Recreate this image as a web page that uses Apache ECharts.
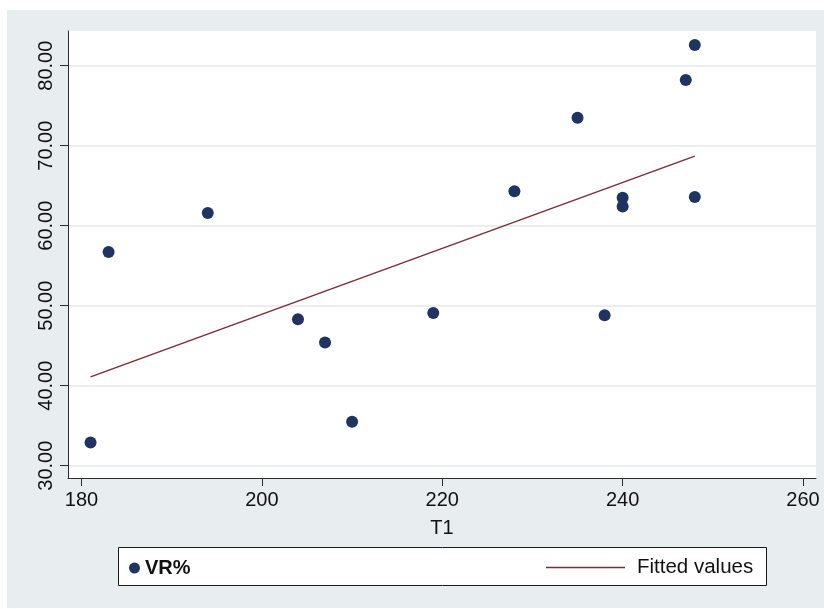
<!DOCTYPE html>
<html>
<head>
<meta charset="utf-8">
<script src="https://cdn.jsdelivr.net/npm/echarts@6/dist/echarts.min.js"></script>
<style>
html,body{margin:0;padding:0;background:#ffffff;}
#chart{width:824px;height:609px;}
</style>
</head>
<body>
<div id="chart"></div>
<script>
// Data
const t1 = [181, 183, 194, 204, 207, 210, 219, 228, 235, 238, 240, 240, 247, 248, 248];
const vr = [32.9, 56.7, 61.6, 48.3, 45.4, 35.5, 49.1, 64.3, 73.5, 48.8, 63.5, 62.4, 78.2, 82.6, 63.6];
const fitX = [181, 248];
const fitY = [41.1, 68.7];
const xTicks = [180, 200, 220, 240, 260];
const yTicks = [30, 40, 50, 60, 70, 80];
const seriesNames = ['VR%', 'Fitted values'];
const xName = 'T1';

const FONT = 'Liberation Sans, Arial, Helvetica, sans-serif';
const chart = echarts.init(document.getElementById('chart'), null, {renderer: 'canvas'});

const scatterData = t1.map((x, i) => [x, vr[i]]);
const fitData = fitX.map((x, i) => [x, fitY[i]]);

chart.setOption({
  animation: false,
  backgroundColor: '#ffffff',
  graphic: [
    {type: 'rect', z: -10, shape: {x: 7, y: 10, width: 817, height: 598}, style: {fill: '#e8edf0'}},
    {type: 'rect', z: 0, shape: {x: 118.5, y: 547.5, width: 648, height: 38}, style: {fill: '#ffffff', stroke: '#1a1a1a', lineWidth: 1}}
  ],
  grid: {left: 68, top: 31, width: 748, height: 447, show: true, backgroundColor: '#ffffff', borderWidth: 0},
  xAxis: {
    type: 'value', min: 178.5, max: 261.44,
    name: xName, nameLocation: 'middle', nameGap: 40,
    nameTextStyle: {fontFamily: FONT, fontSize: 20, color: '#111'},
    axisLine: {show: true, onZero: false, lineStyle: {color: '#2a2a2a', width: 1}},
    axisTick: {show: true, length: 8, lineStyle: {color: '#2a2a2a'}, customValues: xTicks},
    axisLabel: {customValues: xTicks, fontFamily: FONT, fontSize: 20, color: '#111', margin: 12},
    splitLine: {show: false}
  },
  yAxis: {
    type: 'value', min: 28.46, max: 84.34,
    axisLine: {show: true, onZero: false, lineStyle: {color: '#2a2a2a', width: 1}},
    axisTick: {show: true, length: 8, lineStyle: {color: '#2a2a2a'}, customValues: yTicks},
    axisLabel: {customValues: yTicks, rotate: 90, fontFamily: FONT, fontSize: 20, color: '#111', margin: 12,
      formatter: v => v.toFixed(2)},
    splitLine: {show: true, lineStyle: {color: '#e3e9ed', width: 1.5}}
  },
  legend: [
    {
      data: [{name: seriesNames[0], icon: 'circle'}],
      left: 124, top: 553, itemWidth: 11, itemHeight: 11, itemGap: 0,
      textStyle: {fontFamily: FONT, fontSize: 20, fontWeight: 'bold', color: '#111'},
      selectedMode: false
    },
    {
      data: [{name: seriesNames[1], icon: 'rect'}],
      left: 541, top: 552, itemWidth: 79, itemHeight: 1.5, itemGap: 0,
      textStyle: {fontFamily: FONT, fontSize: 20.5, color: '#111', padding: [0, 0, 0, 7]},
      selectedMode: false
    }
  ],
  series: [
    {
      name: seriesNames[0], type: 'scatter', data: scatterData,
      symbol: 'circle', symbolSize: 12,
      itemStyle: {color: '#1f3462', opacity: 1}, z: 3
    },
    {
      name: seriesNames[1], type: 'line', data: fitData,
      showSymbol: false, symbol: 'none',
      lineStyle: {color: '#7f2d33', width: 1.5},
      itemStyle: {color: '#7f2d33'}, z: 2
    }
  ]
});
</script>
</body>
</html>
